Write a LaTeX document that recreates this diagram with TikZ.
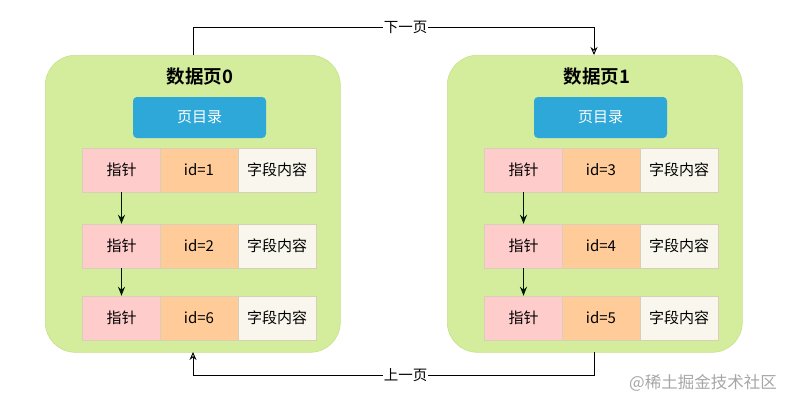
\documentclass[tikz,border=0pt]{standalone}
\usepackage{fontspec}
\setmainfont{Noto Sans CJK SC}[BoldFont=Noto Sans CJK SC Bold]
\usetikzlibrary{arrows.meta}
\definecolor{pagegreen}{HTML}{D3ED9C}
\definecolor{pageedge}{HTML}{C6E28A}
\definecolor{dirblue}{HTML}{2EA8D8}
\definecolor{ptrpink}{HTML}{FFCCCC}
\definecolor{idorange}{HTML}{FFCC99}
\definecolor{fieldcream}{HTML}{F9F7ED}
\definecolor{celledge}{HTML}{D9CFB8}
\tikzset{
  pagebox/.style={draw=pageedge, fill=pagegreen, rounded corners=30pt, line width=0.6pt},
  dirbox/.style={fill=dirblue, rounded corners=4pt, minimum width=133pt, minimum height=41pt, text=white, font=\fontsize{15}{17}\selectfont},
  cellbase/.style={draw=celledge, line width=0.4pt, minimum width=78pt, minimum height=44pt, inner sep=0pt, font=\fontsize{15}{17}\selectfont},
  ptrcell/.style={cellbase, fill=ptrpink},
  idcell/.style={cellbase, fill=idorange},
  fieldcell/.style={cellbase, fill=fieldcream},
  titletext/.style={font=\fontsize{18.5}{21}\selectfont\bfseries},
  linkarrow/.style={-{Stealth[length=8pt,width=7pt,open]}, line width=0.9pt},
  innerarrow/.style={-{Stealth[length=9pt,width=7pt]}, line width=1.6pt, draw=black!90!green},
  linklabel/.style={fill=white, inner sep=1pt, font=\fontsize{14.5}{16}\selectfont}
}
\begin{document}
\begin{tikzpicture}[x=1pt,y=-1pt]
\useasboundingbox (0,0) rectangle (790,407);
% pages
\node[pagebox, minimum width=295pt, minimum height=297pt, anchor=north west] (p0) at (45,55) {};
\node[pagebox, minimum width=295pt, minimum height=297pt, anchor=north west] (p1) at (447,55) {};
\node[titletext] (t0) at (200,77) {数据页0};
\node[titletext] (t1) at (597,77) {数据页1};
\node[dirbox] (d0) at (199.5,117.5) {页目录};
\node[dirbox] (d1) at (600.5,117.5) {页目录};
% left page rows
\node[ptrcell] (a1) at (121.5,170) {指针};
\node[idcell] (b1) at (199,170) {id=1};
\node[fieldcell] (c1) at (277,170) {字段内容};
\node[ptrcell] (a2) at (121.5,246) {指针};
\node[idcell] (b2) at (199,246) {id=2};
\node[fieldcell] (c2) at (277,246) {字段内容};
\node[ptrcell] (a3) at (121.5,318) {指针};
\node[idcell] (b3) at (199,318) {id=6};
\node[fieldcell] (c3) at (277,318) {字段内容};
% right page rows
\node[ptrcell] (e1) at (523.5,170) {指针};
\node[idcell] (f1) at (601,170) {id=3};
\node[fieldcell] (g1) at (679,170) {字段内容};
\node[ptrcell] (e2) at (523.5,246) {指针};
\node[idcell] (f2) at (601,246) {id=4};
\node[fieldcell] (g2) at (679,246) {字段内容};
\node[ptrcell] (e3) at (523.5,318) {指针};
\node[idcell] (f3) at (601,318) {id=5};
\node[fieldcell] (g3) at (679,318) {字段内容};
% inner arrows
\draw[innerarrow] (a1.south) -- (a2.north);
\draw[innerarrow] (a2.south) -- (a3.north);
\draw[innerarrow] (e1.south) -- (e2.north);
\draw[innerarrow] (e2.south) -- (e3.north);
% links
\coordinate (s0) at (193,55);
\coordinate (s1) at (594,55);
\coordinate (u0) at (193,352);
\coordinate (u1) at (594,352);
\draw[linkarrow] (s0) -- (193,27) -- node[linklabel, pos=0.53] (next) {下一页} (594,27) -- (s1);
\draw[linkarrow] (u1) -- (594,375) -- node[linklabel, pos=0.47] (prev) {上一页} (193,375) -- (u0);
% watermark
\node[text=black!35, font=\fontsize{16.5}{18}\selectfont] (wm) at (703,383) {@稀土掘金技术社区};
\end{tikzpicture}
\end{document}
